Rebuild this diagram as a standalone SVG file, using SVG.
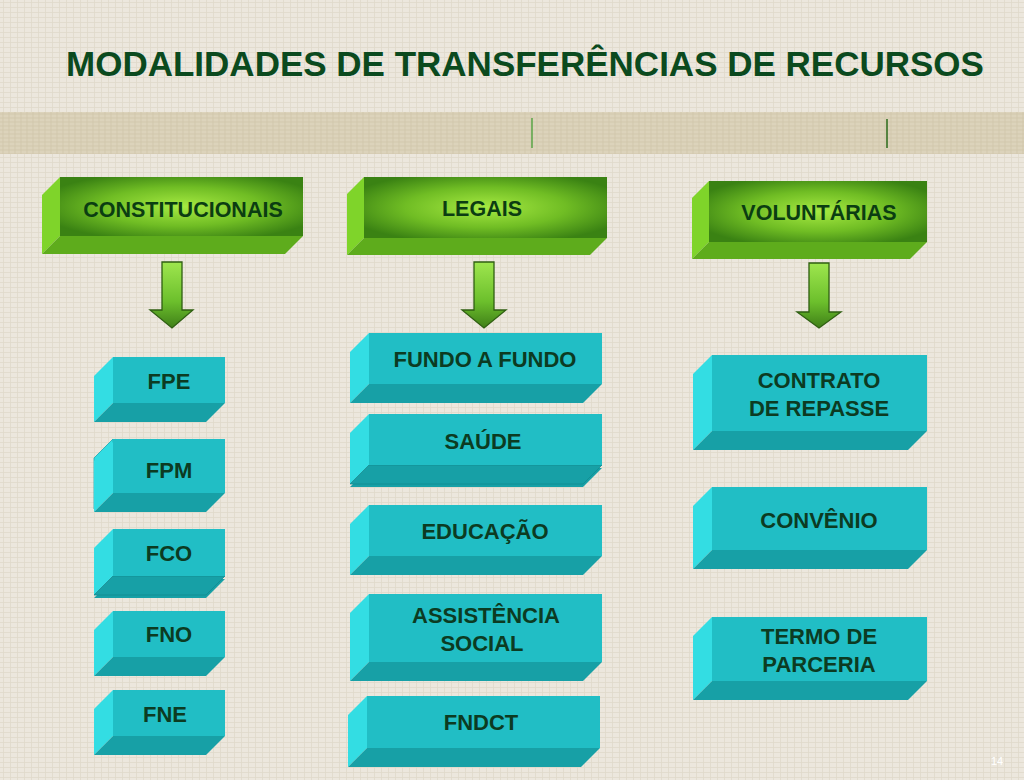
<svg xmlns="http://www.w3.org/2000/svg" width="1024" height="780" viewBox="0 0 1024 780">
<defs>
<pattern id="tex" width="7" height="5" patternUnits="userSpaceOnUse">
<rect width="7" height="5" fill="#ece7dd"/>
<path d="M0 2.5H7M3.5 0V5" stroke="#e0d9ca" stroke-width="0.8"/>
</pattern>
<pattern id="band" width="6" height="4" patternUnits="userSpaceOnUse">
<rect width="6" height="4" fill="#dcd3bb"/>
<path d="M0 2H6M3 0V4" stroke="#cfc5a9" stroke-width="0.8"/>
</pattern>
<radialGradient id="gfront" cx="0.5" cy="0.5" r="0.6">
<stop offset="0" stop-color="#a6ea42"/>
<stop offset="0.55" stop-color="#70bd24"/>
<stop offset="1" stop-color="#3a8213"/>
</radialGradient>
<linearGradient id="garrow" x1="0" y1="0" x2="0" y2="1">
<stop offset="0" stop-color="#9ee64e"/>
<stop offset="0.6" stop-color="#6cbf2c"/>
<stop offset="1" stop-color="#3f7f18"/>
</linearGradient>
</defs>
<style>
.gl{fill:#7fd42a}
.gb{fill:#5eac1c}
.gf{fill:url(#gfront)}
.tl{fill:#33dde3}
.tb{fill:#17a0a6}
.tf{fill:#21bec5}
.arr{fill:url(#garrow);stroke:#2f5f12;stroke-width:1.3}
text{font-family:"Liberation Sans",Arial,sans-serif;font-weight:bold;text-anchor:middle}
.lbl{font-size:22px;fill:#0c3b22}
.glbl{font-size:21.5px;fill:#0b3d12}
</style>
<rect width="1024" height="780" fill="url(#tex)"/>
<rect x="0" y="112" width="1024" height="42" fill="url(#band)"/>
<line x1="532" y1="118" x2="532" y2="148" stroke="#3a9a2a" stroke-width="1.2"/>
<line x1="887" y1="119" x2="887" y2="148" stroke="#2a6a1a" stroke-width="1.5"/>
<text x="525" y="76" style="font-size:35px;fill:#0b4a1e">MODALIDADES DE TRANSFERÊNCIAS DE RECURSOS</text>

<g id="connectors">
<polygon class="arr" points="162,262 182,262 182,310 193,310 172,328 150,310 162,310"/>
<polygon class="arr" points="474,262 494,262 494,310 506,310 484,328 462,310 474,310"/>
<polygon class="arr" points="809,263 829,263 829,312 841,312 819,328 797,312 809,312"/>
</g>

<g id="n-constitucionais">
<polygon class="gl" points="42,195 60,177 60,236 42,254"/>
<polygon class="gb" points="42,254 60,236 303,236 285,254"/>
<rect class="gf" x="60" y="177" width="243" height="59"/>
<text class="glbl" x="183" y="217">CONSTITUCIONAIS</text>
</g>
<g id="n-legais">
<polygon class="gl" points="347,194 364,177 364,238 347,255"/>
<polygon class="gb" points="347,255 364,238 607,238 590,255"/>
<rect class="gf" x="364" y="177" width="243" height="61"/>
<text class="glbl" x="482" y="216">LEGAIS</text>
</g>
<g id="n-voluntarias">
<polygon class="gl" points="692,198 709,181 709,242 692,259"/>
<polygon class="gb" points="692,259 709,242 927,242 910,259"/>
<rect class="gf" x="709" y="181" width="218" height="61"/>
<text class="glbl" x="819" y="220">VOLUNTÁRIAS</text>
</g>

<g id="n-fpe">
<polygon class="tl" points="94,376 113,357 113,403 94,422"/>
<polygon class="tb" points="94,422 113,403 225,403 206,422"/>
<rect class="tf" x="113" y="357" width="112" height="46"/>
<text class="lbl" x="169" y="389">FPE</text>
</g>
<g id="n-fpm">
<polygon class="tl" points="94,458 113,439 113,490 94,509" stroke="#1aa8ae" stroke-width="0.8"/>
<rect class="tf" x="113" y="439" width="112" height="51"/>
<polygon class="tl" points="94,461 113,442 113,493 94,512"/>
<polygon class="tb" points="94,512 113,493 225,493 206,512"/>
<rect class="tf" x="113" y="442" width="112" height="51"/>
<text class="lbl" x="169" y="478">FPM</text>
</g>
<g id="n-fco">
<polygon class="tb" points="94,598 113,579 225,579 206,598"/>
<polygon class="tl" points="94,548 113,529 113,576 94,595"/>
<polygon class="tb" points="94,595 113,576 225,576 206,595" stroke="#138a90" stroke-width="0.8"/>
<rect class="tf" x="113" y="529" width="112" height="47"/>
<text class="lbl" x="169" y="561">FCO</text>
</g>
<g id="n-fno">
<polygon class="tl" points="94,630 113,611 113,657 94,676"/>
<polygon class="tb" points="94,676 113,657 225,657 206,676"/>
<rect class="tf" x="113" y="611" width="112" height="46"/>
<text class="lbl" x="169" y="642">FNO</text>
</g>
<g id="n-fne">
<polygon class="tl" points="94,709 113,690 113,736 94,755"/>
<polygon class="tb" points="94,755 113,736 225,736 206,755"/>
<rect class="tf" x="113" y="690" width="112" height="46"/>
<text class="lbl" x="165" y="722">FNE</text>
</g>

<g id="n-fundo">
<polygon class="tl" points="350,352 369,333 369,384 350,403"/>
<polygon class="tb" points="350,403 369,384 602,384 583,403"/>
<rect class="tf" x="369" y="333" width="233" height="51"/>
<text class="lbl" x="485" y="367">FUNDO A FUNDO</text>
</g>
<g id="n-saude">
<polygon class="tb" points="350,487 369,468 602,468 583,487"/>
<polygon class="tl" points="350,433 369,414 369,465 350,484"/>
<polygon class="tb" points="350,484 369,465 602,465 583,484" stroke="#138a90" stroke-width="0.8"/>
<rect class="tf" x="369" y="414" width="233" height="51"/>
<text class="lbl" x="483" y="449">SAÚDE</text>
</g>
<g id="n-educacao">
<polygon class="tl" points="350,524 369,505 369,556 350,575"/>
<polygon class="tb" points="350,575 369,556 602,556 583,575"/>
<rect class="tf" x="369" y="505" width="233" height="51"/>
<text class="lbl" x="485" y="539">EDUCAÇÃO</text>
</g>
<g id="n-assistencia">
<polygon class="tl" points="350,613 369,594 369,662 350,681"/>
<polygon class="tb" points="350,681 369,662 602,662 583,681"/>
<rect class="tf" x="369" y="594" width="233" height="68"/>
<text class="lbl" x="486" y="623">ASSISTÊNCIA</text>
<text class="lbl" x="482" y="651">SOCIAL</text>
</g>
<g id="n-fndct">
<polygon class="tl" points="348,715 367,696 367,748 348,767"/>
<polygon class="tb" points="348,767 367,748 600,748 581,767"/>
<rect class="tf" x="367" y="696" width="233" height="52"/>
<text class="lbl" x="481" y="730">FNDCT</text>
</g>

<g id="n-contrato">
<polygon class="tl" points="693,374 712,355 712,431 693,450"/>
<polygon class="tb" points="693,450 712,431 927,431 908,450"/>
<rect class="tf" x="712" y="355" width="215" height="76"/>
<text class="lbl" x="819" y="388">CONTRATO</text>
<text class="lbl" x="819" y="416">DE REPASSE</text>
</g>
<g id="n-convenio">
<polygon class="tl" points="693,506 712,487 712,550 693,569"/>
<polygon class="tb" points="693,569 712,550 927,550 908,569"/>
<rect class="tf" x="712" y="487" width="215" height="63"/>
<text class="lbl" x="819" y="528">CONVÊNIO</text>
</g>
<g id="n-termo">
<polygon class="tl" points="693,636 712,617 712,681 693,700"/>
<polygon class="tb" points="693,700 712,681 927,681 908,700"/>
<rect class="tf" x="712" y="617" width="215" height="64"/>
<text class="lbl" x="819" y="644">TERMO DE</text>
<text class="lbl" x="819" y="672">PARCERIA</text>
</g>

<text x="997" y="765" style="font-size:11px;font-weight:normal;fill:#ffffff">14</text>
</svg>
